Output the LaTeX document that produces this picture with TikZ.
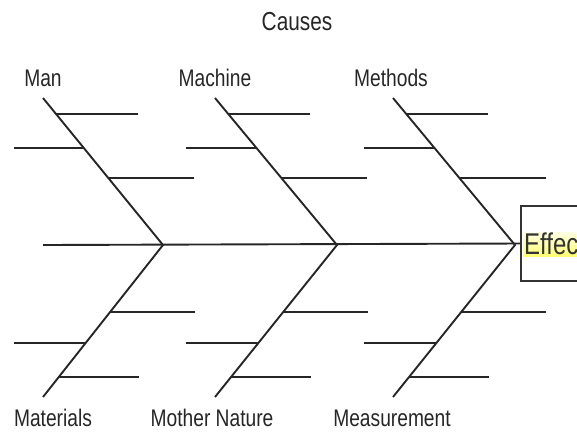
\documentclass[tikz,border=0pt]{standalone}
\usepackage{fontspec}
\setmainfont{Liberation Sans}[FakeStretch=0.8]
\usepackage{tikz}
\usetikzlibrary{calc, positioning}

\begin{document}
\begin{tikzpicture}[x=1pt, y=-1pt,
		bone/.style={line width=1.9pt, black!85},
		cause/.style={font=\fontsize{24}{28}\selectfont, text=black!85, inner sep=0pt},
		title/.style={font=\fontsize{26}{30}\selectfont, text=black!85, inner sep=0pt},
		effectbox/.style={rectangle, draw=black!80, line width=1.9pt, fill=white, minimum width=110pt, minimum height=75pt},
		hilite/.style={rectangle, inner sep=1pt, top color=yellow!10, bottom color=yellow!55, text=black!80, font=\fontsize{30}{32}\selectfont}]
		
		\useasboundingbox (0,0) rectangle (577,432);
		\clip (0,0) rectangle (577,432);
		
		\node[title] (causes) at (297,22) {Causes};
		
		% head of the fish
		\node[effectbox, anchor=west] (effect) at (520,243.5) {};
		\node[hilite, anchor=west] (etext) at (523,244) {Effect};
		
		% bone ends
		\coordinate (tail) at (43,245);
		\coordinate (j1) at (163,245);
		\coordinate (j2) at (337,245);
		\coordinate (j3) at (515,245);
		\coordinate (t1) at (43,98);
		\coordinate (t2) at (215,98);
		\coordinate (t3) at (393,98);
		\coordinate (b1) at (43,397);
		\coordinate (b2) at (215,397);
		\coordinate (b3) at (393,397);
		
		\node[cause] (man) at (43,78) {Man};
		\node[cause] (machine) at (215,78) {Machine};
		\node[cause] (methods) at (391,78) {Methods};
		\node[cause] (materials) at (53,418) {Materials};
		\node[cause] (nature) at (212,418) {Mother Nature};
		\node[cause] (measure) at (392,418) {Measurement};
		
		% spine
		\draw[bone] (tail) -- (effect.west);
		
		% upper and lower bones with their twigs
		\foreach \j/\t/\b in {j1/t1/b1, j2/t2/b2, j3/t3/b3} {
			\draw[bone] (\t) -- (\j) -- (\b);
			\draw[bone] ($(\t)!0.109!(\j)$) -- ++(82,0);
			\draw[bone] ($(\t)!0.34!(\j)$) -- ++(-70,0);
			\draw[bone] ($(\t)!0.545!(\j)$) -- ++(86,0);
			\draw[bone] ($(\b)!0.13!(\j)$) -- ++(80,0);
			\draw[bone] ($(\b)!0.355!(\j)$) -- ++(-72,0);
			\draw[bone] ($(\b)!0.56!(\j)$) -- ++(85,0);
		}
		
	\end{tikzpicture}
\end{document}
